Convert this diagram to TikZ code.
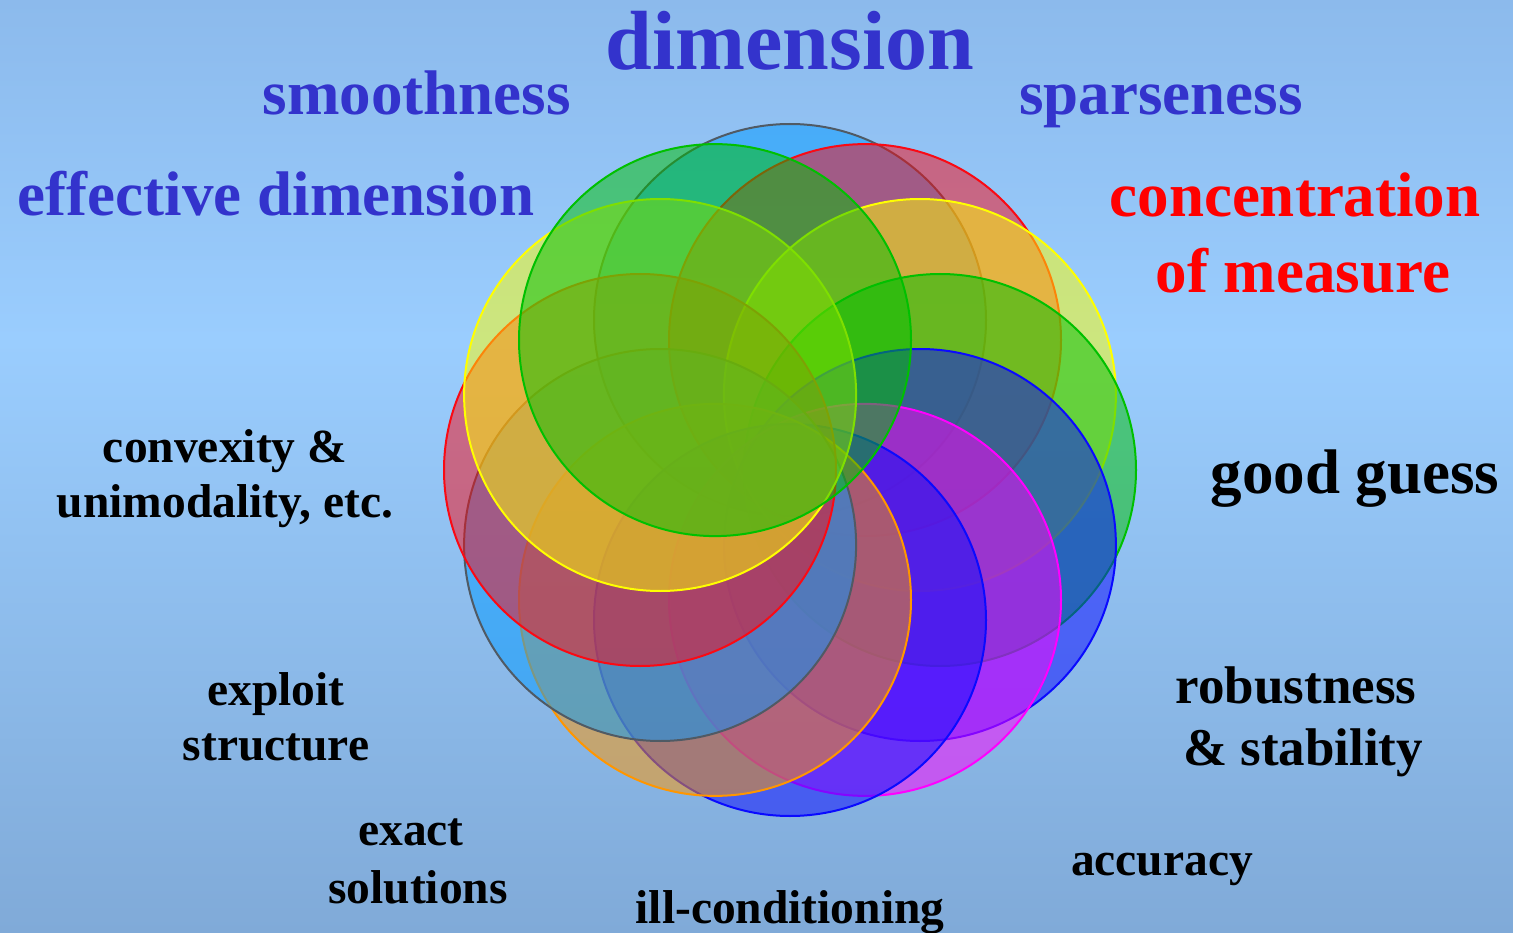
\documentclass[tikz,border=0pt]{standalone}
\usepackage{fontspec}
\setmainfont{Liberation Serif}
\definecolor{bgtop}{RGB}{140,186,236}
\definecolor{bgmid}{RGB}{154,205,254}
\definecolor{bgbot}{RGB}{128,170,216}
\definecolor{txtblue}{RGB}{51,51,204}
\definecolor{lblue}{RGB}{0,153,255}
\definecolor{cgray}{RGB}{80,90,100}
\definecolor{cred}{RGB}{250,10,20}
\definecolor{cyellow}{RGB}{255,255,0}
\definecolor{cgreen}{RGB}{0,192,0}
\definecolor{cblue}{RGB}{10,10,255}
\definecolor{cmag}{RGB}{255,0,255}
\definecolor{corange}{RGB}{255,150,0}
\tikzset{
  petal/.style={circle, minimum size=392pt, inner sep=0pt, line width=2pt, fill opacity=0.5, draw opacity=1},
  lbl/.style={anchor=base, inner sep=0pt, font=\bfseries},
  big/.style={lbl, font=\bfseries\fontsize{84}{84}\selectfont},
  mid/.style={lbl, font=\bfseries\fontsize{63}{63}\selectfont},
  med/.style={lbl, font=\bfseries\fontsize{53}{53}\selectfont},
  sml/.style={lbl, font=\bfseries\fontsize{47.5}{47.5}\selectfont},
}
\begin{document}
\begin{tikzpicture}[x=1pt,y=-1pt]
\useasboundingbox (0,0) rectangle (1513,933);
\shade[top color=bgtop, bottom color=bgmid] (0,0) rectangle (1513,340);
\shade[top color=bgmid, bottom color=bgbot] (0,340) rectangle (1513,933);
% petals
\node[petal, draw=cgray, fill=lblue] (c1) at (790,320) {};
\node[petal, draw=cred, fill=cred] (c2) at (865,340.1) {};
\node[petal, draw=cyellow, fill=cyellow] (c3) at (919.9,395) {};
\node[petal, draw=cgreen, fill=cgreen] (c4) at (940,470) {};
\node[petal, draw=cblue, fill=cblue] (c5) at (919.9,545) {};
\node[petal, draw=cmag, fill=cmag] (c6) at (865,599.9) {};
\node[petal, draw=cblue, fill=cblue] (c7) at (790,620) {};
\node[petal, draw=corange, fill=corange] (c8) at (715,599.9) {};
\node[petal, draw=cgray, fill=lblue] (c9) at (660.1,545) {};
\node[petal, draw=cred, fill=cred] (c10) at (640,470) {};
\node[petal, draw=cyellow, fill=cyellow] (c11) at (660.1,395) {};
\node[petal, draw=cgreen, fill=cgreen] (c12) at (715,340.1) {};
% labels
\node[big, text=txtblue] (tdim) at (790,70) {dimension};
\node[mid, text=txtblue] (tsmooth) at (417,115) {smoothness};
\node[mid, text=txtblue] (tsparse) at (1161,115) {sparseness};
\node[mid, text=txtblue] (teff) at (276,216) {effective dimension};
\node[mid, text=red] (tconc) at (1295,217) {concentration};
\node[mid, text=red] (tmeas) at (1303,293) {of measure};
\node[mid, text=black] (tguess) at (1355,493) {good guess};
\node[sml] (tconv) at (225,462) {convexity \&};
\node[sml] (tuni) at (225,517) {unimodality, etc.};
\node[sml] (texp) at (276,705) {exploit};
\node[sml] (tstruct) at (276,760) {structure};
\node[med] (trob) at (1296,703) {robustness};
\node[med] (tstab) at (1303,765) {\& stability};
\node[sml] (texact) at (411,845) {exact};
\node[sml] (tsol) at (418,903) {solutions};
\node[sml] (tacc) at (1162,875) {accuracy};
\node[sml] (till) at (790,923) {ill-conditioning};
\end{tikzpicture}
\end{document}
